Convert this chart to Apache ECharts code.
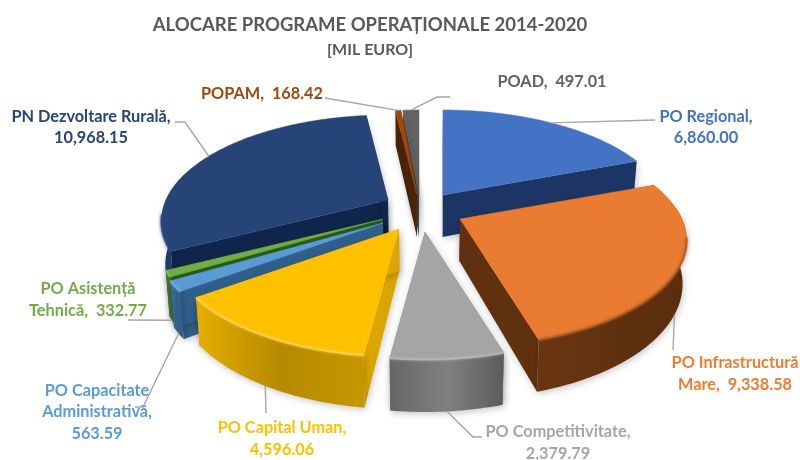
<!DOCTYPE html>
<html>
<head>
<meta charset="utf-8">
<style>html,body{margin:0;padding:0;background:#fff}#c{width:800px;height:460px}</style>
<script src="https://cdn.jsdelivr.net/npm/echarts@6/dist/echarts.min.js"></script>
</head>
<body>
<div id="c"></div>
<script>
// ---- data ----
var categories = ['PO Regional','PO Infrastructură\nMare','PO Competitivitate','PO Capital Uman','PO Capacitate\nAdministrativă','PO Asistență\nTehnică','PN Dezvoltare Rurală','POPAM','POAD'];
var values = [6860.00,9338.58,2379.79,4596.06,563.59,332.77,10968.15,168.42,497.01];
var separators = ['\n','  ','\n','\n','\n','  ','\n','  ','  '];
var titleText = 'ALOCARE PROGRAME OPERAȚIONALE 2014-2020';
var subtitleText = '[MIL EURO]';

// ---- styles and layout ----
var topColors  = ['#4472C4','#E97C30','#A5A5A5','#FFC000','#5B9BD5','#70AD47','#264478','#9E480E','#636363'];
var labelColors= ['#4472C4','#ED7D31','#A5A5A5','#FFC000','#5B9BD5','#70AD47','#264478','#9E480E','#636363'];
var sideColors = ['#1C3564','#60310F','#6a6a6a','#DBA500','#2F5F8A','#2C5A1E','#10254B','#4A2409','#4c4c4c'];
var wallStops  = [
  ['#1C3564','#1C3564','#1C3564'],
  ['#6A3611','#60310F','#5A2D0D'],
  ['#666666','#808080','#5C5C5C'],
  ['#E6AE00','#B58A00','#C79700'],
  ['#3A6F9E','#2F5F8A','#2F5F8A'],
  ['#3E7628','#3E7628','#3E7628'],
  ['#1E3A6C','#1E3A6C','#1B3562'],
  ['#4A2409','#4A2409','#4A2409'],
  ['#4c4c4c','#4c4c4c','#4c4c4c']
];
var rimColors  = ['#4f7dcc','#A85A22','#B8B8B8','#FFD24D','#73ADE0','#82BE58','#2A4A80','#9E480E','#636363'];
var apexX = [443,460,425,399,383,383,388,417,419];
var apexY = [195,219,232,229,223,219,200,195,195];
var drawOrder = [8,7,0,6,5,4,3,1,2];
var labelX = [706,735,558,282,97,88,91,262,552];
var labelY = [127,373.5,442.5,438.5,412,299.5,127,94,82];
var elbows = [
  [[655,120]],
  [[673,350]],
  [[473,437],[482,437]],
  [[266,413]],
  [[143,407],[135,407]],
  [[128,320]],
  [[185,122],[175,122]],
  [[325,98]],
  [[437,97],[450,97]]
];
var fromBottom = [false,true,true,true,true,true,false,false,false];

var R = 222, K = 102, P = 0.2, H = 42, VX = 420;
var total = values.reduce(function(a,b){return a+b;},0);
var starts = [], ends = [], acc = 0;
values.forEach(function(v){ starts.push(acc/total*360); acc += v; ends.push(acc/total*360); });

function project(i, deg, bottom){
  var t = deg*Math.PI/180, X = Math.sin(t), Y = Math.cos(t), s = 1/(1+P*Y);
  var x = apexX[i] + R*X*s, y = apexY[i] - K*Y*s;
  if(bottom){ x = VX + (x-VX)*0.985; y += H*s; }
  return [x,y];
}
function apex(i,bottom){
  var x = apexX[i], y = apexY[i];
  if(bottom){ x = VX + (x-VX)*0.985; y += H; }
  return [x,y];
}
function arc(i,a,b,bottom){
  var pts = [], n = Math.max(2,Math.ceil((b-a)));
  for(var k=0;k<=n;k++){ pts.push(project(i,a+(b-a)*k/n,bottom)); }
  return pts;
}
function renderSlice(params, api){
  var i = api.value(0), a = starts[i], b = ends[i], ch = [];
  var shadow = {shadowBlur:7,shadowColor:'rgba(0,0,0,0.22)',shadowOffsetX:1,shadowOffsetY:2};
  // side faces
  [a,b].forEach(function(d){
    var pts = [apex(i,false),project(i,d,false),project(i,d,true),apex(i,true)];
    ch.push({type:'polygon',shape:{points:pts},style:Object.assign({fill:sideColors[i]},shadow),silent:true});
  });
  // outer wall, front part only (the back part is never seen)
  var wa = Math.max(a,85), wb = Math.min(b,285);
  if(wb>wa){
    var wt = arc(i,wa,wb,false), wl = arc(i,wa,wb,true), w = wallStops[i];
    ch.push({type:'polygon',shape:{points:wt.concat(wl.slice().reverse())},silent:true,
      style:Object.assign({fill:new echarts.graphic.LinearGradient(0,0,1,0,[
        {offset:0,color:w[0]},{offset:0.5,color:w[1]},{offset:1,color:w[2]}])},shadow)});
  }
  // top face
  ch.push({type:'polygon',shape:{points:[apex(i,false)].concat(arc(i,a,b,false))},silent:true,
    style:{fill:topColors[i],stroke:topColors[i],lineWidth:0.5}});
  // bevel on the front part of the rim
  var ra = Math.max(a,100), rb = Math.min(b,262);
  if(rb-ra>3){
    ch.push({type:'polyline',shape:{points:arc(i,ra,rb,false)},silent:true,
      style:{fill:null,stroke:rimColors[i],lineWidth:2,opacity:0.8,shadowBlur:3,shadowColor:rimColors[i]}});
  }
  return {type:'group',children:ch};
}
function renderLabel(params, api){
  var i = api.value(0), mid = (starts[i]+ends[i])/2;
  var pts = [project(i,mid,fromBottom[i])].concat(elbows[i]);
  var txt = categories[i] + ',' + separators[i] +
    values[i].toLocaleString('en-US',{minimumFractionDigits:2,maximumFractionDigits:2});
  return {type:'group',children:[
    {type:'polyline',shape:{points:pts},silent:true,style:{fill:null,stroke:'#A6A6A6',lineWidth:1.4}},
    {type:'text',silent:true,style:{text:txt,x:labelX[i],y:labelY[i],fill:labelColors[i],
      font:'bold 16.3px Lato',align:'center',verticalAlign:'middle',lineHeight:21.5}}
  ]};
}
var chart = echarts.init(document.getElementById('c'),null,{renderer:'canvas'});
chart.setOption({
  animation:false,
  backgroundColor:'#fff',
  title:[
    {text:titleText,left:365,top:11,textAlign:'center',textStyle:{fontFamily:'Lato',fontWeight:'bold',fontSize:18.5,color:'#595959'}},
    {text:subtitleText,left:365,top:37,textAlign:'center',textStyle:{fontFamily:'Lato',fontWeight:'bold',fontSize:16,color:'#595959'}}
  ],
  series:[
    {type:'custom',coordinateSystem:'none',renderItem:renderSlice,data:drawOrder.map(function(i){return [i];}),z:2,silent:true},
    {type:'custom',coordinateSystem:'none',renderItem:renderLabel,data:categories.map(function(c,i){return [i];}),z:3,silent:true}
  ]
});
</script>
</body>
</html>
